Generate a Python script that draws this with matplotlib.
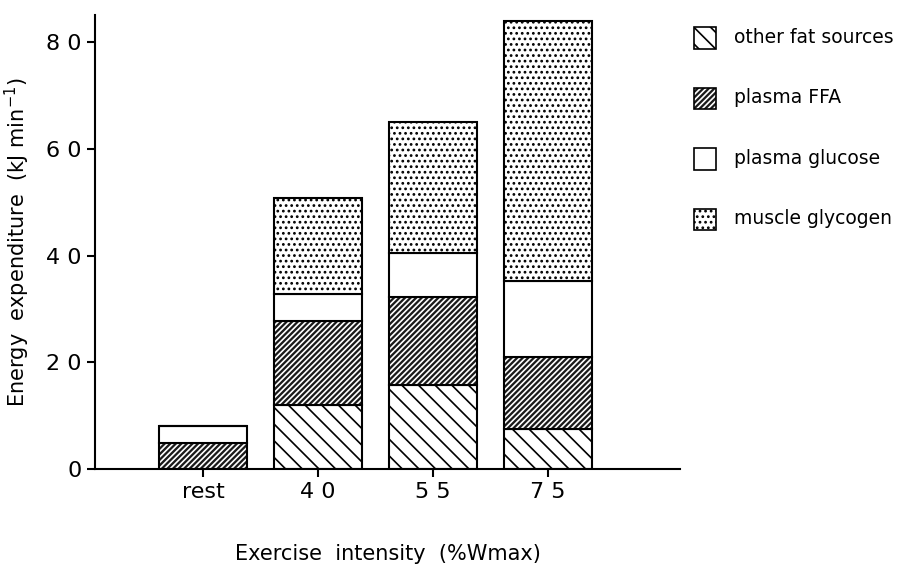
import matplotlib
matplotlib.use("Agg")
import matplotlib.pyplot as plt
from matplotlib.patches import Rectangle

categories = ["rest", "4 0", "5 5", "7 5"]
other_fat = [0, 12, 15.8, 7.5]
plasma_ffa = [4.8, 15.8, 16.4, 13.5]
plasma_glucose = [3.2, 5.0, 8.3, 14.2]
muscle_glycogen = [0, 18.0, 24.5, 48.8]
yticks = [0, 20, 40, 60, 80]
ytick_labels = ["0", "2 0", "4 0", "6 0", "8 0"]

plt.rcParams['hatch.linewidth'] = 1.2
fig = plt.figure(figsize=(9.13, 5.76), dpi=100)
ax = fig.add_axes([0.104, 0.186, 0.641, 0.788])
x = list(range(len(categories)))
w = 0.76
series = [
    (other_fat, dict(facecolor="white", hatch="\\\\", hatchcolor="black"), "other fat sources"),
    (plasma_ffa, dict(facecolor="#1a1a1a", hatch="//////", hatchcolor="white"), "plasma FFA"),
    (plasma_glucose, dict(facecolor="white", hatch=None, hatchcolor="black"), "plasma glucose"),
    (muscle_glycogen, dict(facecolor="white", hatch="...", hatchcolor="black"), "muscle glycogen"),
]
bottom = [0]*4
for vals, st, lab in series:
    ax.bar(x, vals, w, bottom=bottom, facecolor=st["facecolor"], hatch=st["hatch"],
           edgecolor=st["hatchcolor"], linewidth=0)
    ax.bar(x, vals, w, bottom=bottom, facecolor="none", edgecolor="black", linewidth=1.5)
    bottom = [b+v for b, v in zip(bottom, vals)]

ax.set_xlim(-0.94, 4.15)
ax.set_ylim(0, 85.1)
ax.set_xticks(x)
ax.set_xticklabels(categories, fontsize=16)
ax.set_yticks(yticks)
ax.set_yticklabels(ytick_labels, fontsize=16)
for s in ["top", "right"]:
    ax.spines[s].set_visible(False)
ax.spines["left"].set_linewidth(1.5)
ax.spines["bottom"].set_linewidth(1.5)
ax.tick_params(width=1.5, length=6)
ax.set_ylabel("Energy  expenditure  (kJ min$^{-1}$)", fontsize=15, labelpad=10)
ax.set_xlabel("Exercise  intensity  (%Wmax)", fontsize=15, labelpad=30)

ys = [0.935, 0.83, 0.725, 0.62]
for (vals, st, lab), yy in zip(series, ys):
    r = Rectangle((0.760, yy-0.02), 0.024, 0.038, transform=fig.transFigure,
                  facecolor=st["facecolor"], hatch=st["hatch"], edgecolor=st["hatchcolor"], linewidth=0)
    fig.add_artist(r)
    r2 = Rectangle((0.760, yy-0.02), 0.024, 0.038, transform=fig.transFigure,
                   facecolor="none", edgecolor="black", linewidth=1.2)
    fig.add_artist(r2)
    fig.text(0.804, yy, lab, fontsize=13.5, va="center")

fig.savefig("out.png")
